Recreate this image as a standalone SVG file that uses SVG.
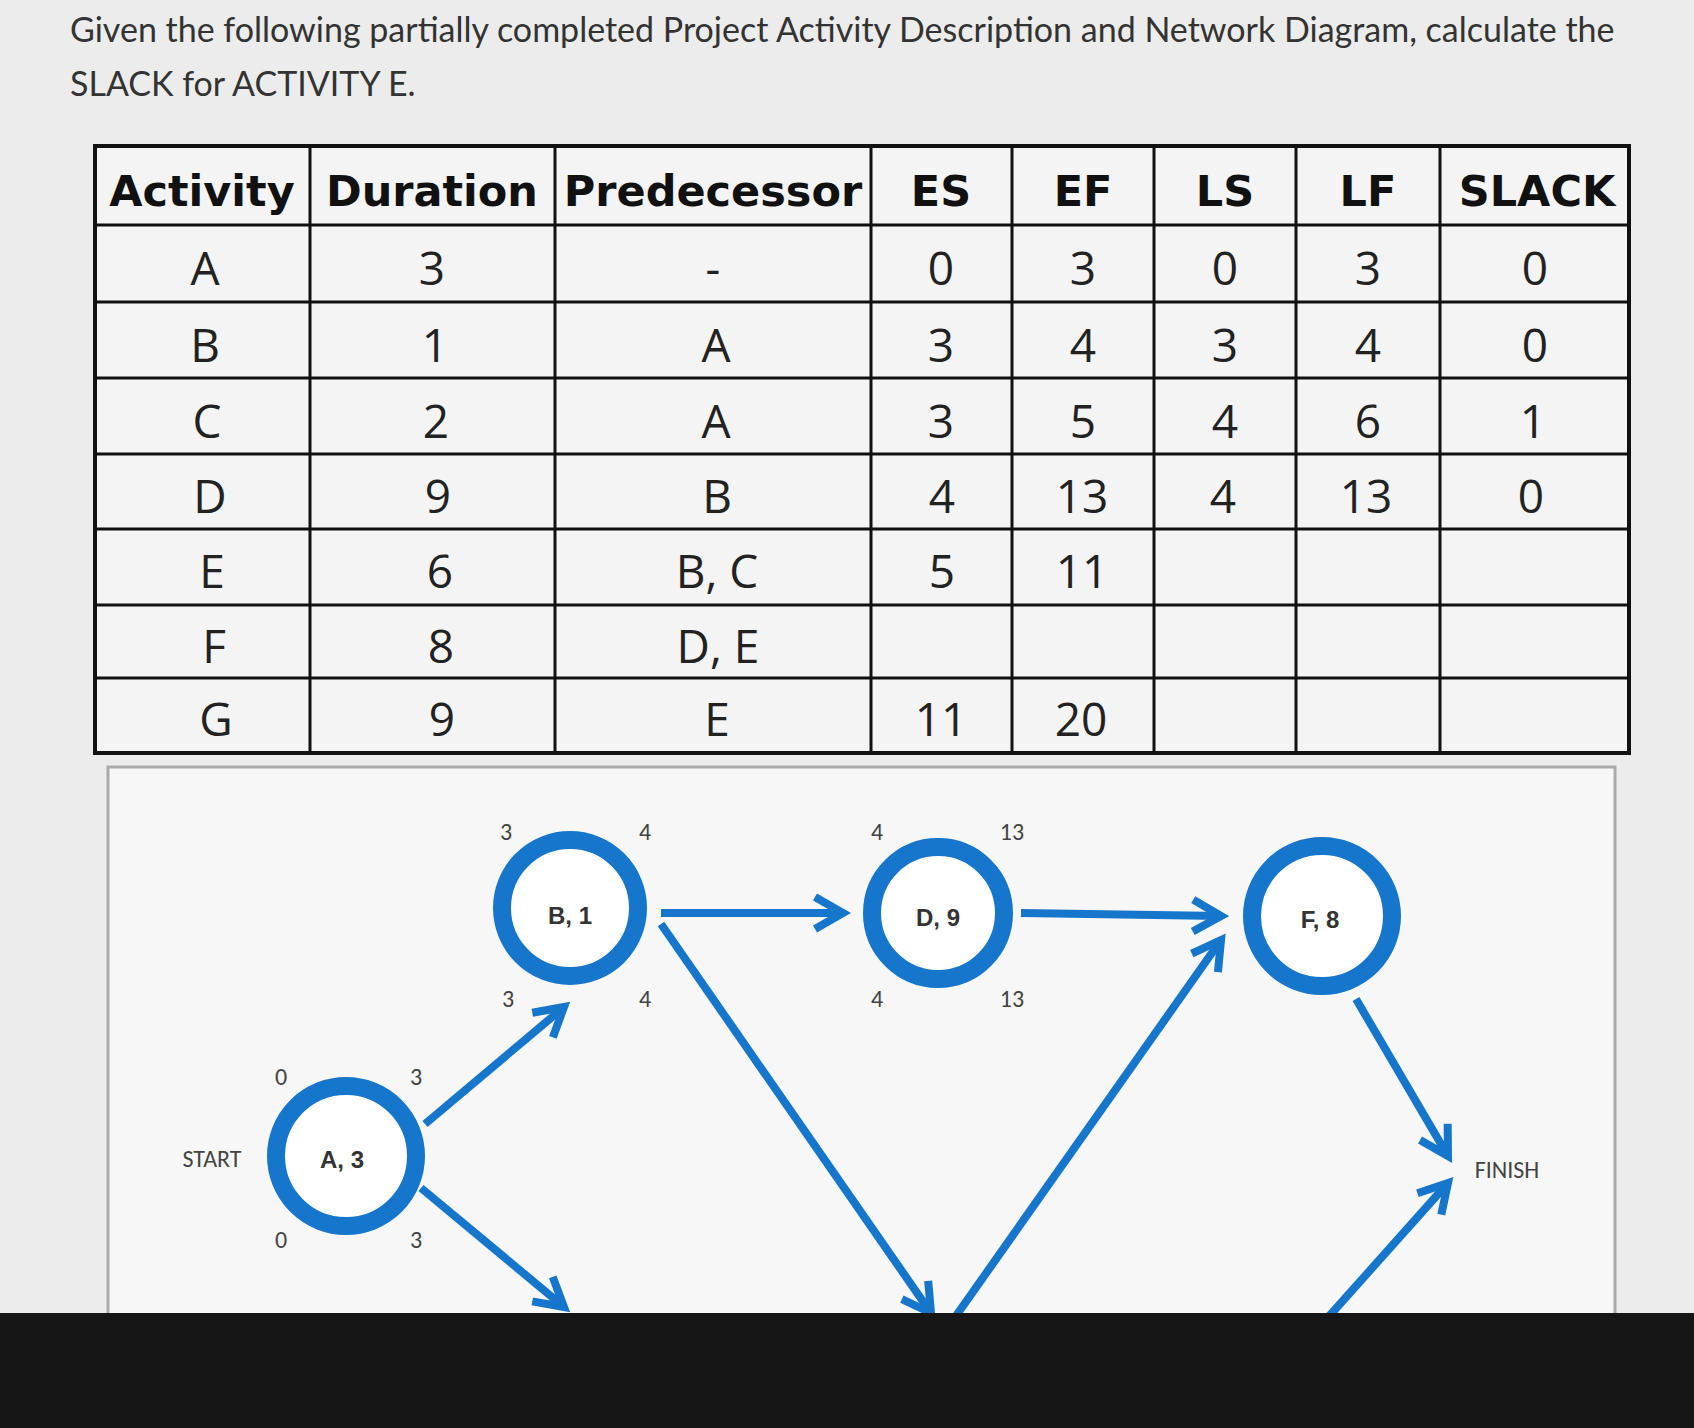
<svg xmlns="http://www.w3.org/2000/svg" width="1694" height="1428" viewBox="0 0 1694 1428">
<defs>
<style>
.q{font-family:"Lato","Open Sans",sans-serif;font-size:34px;fill:#333}
.h{font-family:"DejaVu Sans",sans-serif;font-size:43px;font-weight:bold;fill:#111;text-anchor:middle}
.c{font-family:"Open Sans","DejaVu Sans",sans-serif;font-size:46px;fill:#222;text-anchor:middle}
.g{stroke:#111;stroke-width:3;fill:none}
.n{fill:#fff;stroke:#1576cc;stroke-width:18}
.a{stroke:#1576cc;stroke-width:8;fill:none;marker-end:url(#m)}
.l{font-family:"Calibri","Liberation Sans",sans-serif;font-size:24px;fill:#444;text-anchor:middle}
.b{font-family:"Liberation Sans",sans-serif;font-size:24px;font-weight:bold;fill:#333;text-anchor:middle}
</style>
<marker id="m" viewBox="0 0 10 10" refX="8" refY="5" markerWidth="5" markerHeight="5" orient="auto" markerUnits="strokeWidth">
<path d="M1,1 L8,5 L1,9" fill="none" stroke="#1576cc" stroke-width="2"/>
</marker>
</defs>
<rect width="1694" height="1428" fill="#ececec"/>
<text class="q" x="70" y="42">Given the following partially completed Project Activity Description and Network Diagram, calculate the</text>
<text class="q" x="70" y="96">SLACK for ACTIVITY E.</text>
<g id="table">
<rect x="95" y="146" width="1534" height="607" fill="#f4f4f4" stroke="#111" stroke-width="4"/>
<path class="g" d="M95,225H1629M95,302H1629M95,378H1629M95,454H1629M95,529H1629M95,605H1629M95,678H1629M310,146V753M555,146V753M871,146V753M1012,146V753M1154,146V753M1296,146V753M1440,146V753"/>
<g class="h">
<text x="202" y="206">Activity</text><text x="432" y="206">Duration</text><text x="713" y="206">Predecessor</text><text x="941" y="206">ES</text><text x="1083" y="206">EF</text><text x="1225" y="206">LS</text><text x="1368" y="206">LF</text><text x="1537" y="206">SLACK</text>
</g>
<g class="c">
<text x="205" y="285">A</text><text x="432" y="285">3</text><text x="713" y="285">-</text><text x="941" y="285">0</text><text x="1083" y="285">3</text><text x="1225" y="285">0</text><text x="1368" y="285">3</text><text x="1535" y="285">0</text>
<text x="205" y="362">B</text><text x="435" y="362">1</text><text x="716" y="362">A</text><text x="941" y="362">3</text><text x="1083" y="362">4</text><text x="1225" y="362">3</text><text x="1368" y="362">4</text><text x="1535" y="362">0</text>
<text x="207" y="438">C</text><text x="436" y="438">2</text><text x="716" y="438">A</text><text x="941" y="438">3</text><text x="1083" y="438">5</text><text x="1225" y="438">4</text><text x="1368" y="438">6</text><text x="1533" y="438">1</text>
<text x="210" y="513">D</text><text x="438" y="513">9</text><text x="717" y="513">B</text><text x="942" y="513">4</text><text x="1082" y="513">13</text><text x="1223" y="513">4</text><text x="1366" y="513">13</text><text x="1531" y="513">0</text>
<text x="212" y="588">E</text><text x="440" y="588">6</text><text x="717" y="588">B, C</text><text x="942" y="588">5</text><text x="1082" y="588">11</text>
<text x="214" y="663">F</text><text x="441" y="663">8</text><text x="718" y="663">D, E</text>
<text x="216" y="736">G</text><text x="442" y="736">9</text><text x="717" y="736">E</text><text x="941" y="736">11</text><text x="1081" y="736">20</text>
</g>
</g>
<rect x="108" y="767" width="1507" height="560" fill="#f7f7f7" stroke="#aaa" stroke-width="3"/>
<g id="connectors">
<line class="a" x1="661" y1="913" x2="843" y2="913"/>
<line class="a" x1="1021" y1="913" x2="1221" y2="916"/>
<line class="a" x1="425" y1="1124" x2="564" y2="1007"/>
<line class="a" x1="421" y1="1188" x2="564" y2="1307"/>
<line class="a" x1="661" y1="924" x2="931" y2="1313"/>
<line class="a" x1="951" y1="1323" x2="1221" y2="940"/>
<line class="a" x1="1356" y1="999" x2="1448" y2="1156"/>
<line class="a" x1="1323" y1="1323" x2="1448" y2="1183"/>
</g>
<g id="nodeB"><circle class="n" cx="570" cy="908" r="68"/><text class="b" x="570" y="924">B, 1</text>
<text class="l" x="506" y="840">3</text><text class="l" x="645" y="840">4</text><text class="l" x="508" y="1007">3</text><text class="l" x="645" y="1007">4</text></g>
<g id="nodeD"><circle class="n" cx="938" cy="913" r="66"/><text class="b" x="938" y="926">D, 9</text>
<text class="l" x="877" y="840">4</text><text class="l" x="1012" y="840">13</text><text class="l" x="877" y="1007">4</text><text class="l" x="1012" y="1007">13</text></g>
<g id="nodeF"><circle class="n" cx="1322" cy="916" r="70"/><text class="b" x="1320" y="928">F, 8</text></g>
<g id="nodeA"><circle class="n" cx="346" cy="1156" r="70"/><text class="b" x="342" y="1168">A, 3</text>
<text class="l" x="281" y="1085">0</text><text class="l" x="416" y="1085">3</text><text class="l" x="281" y="1248">0</text><text class="l" x="416" y="1248">3</text></g>
<text class="l" x="212" y="1167">START</text>
<text class="l" x="1507" y="1178">FINISH</text>
<rect x="0" y="1313" width="1694" height="115" fill="#161616"/>
</svg>
